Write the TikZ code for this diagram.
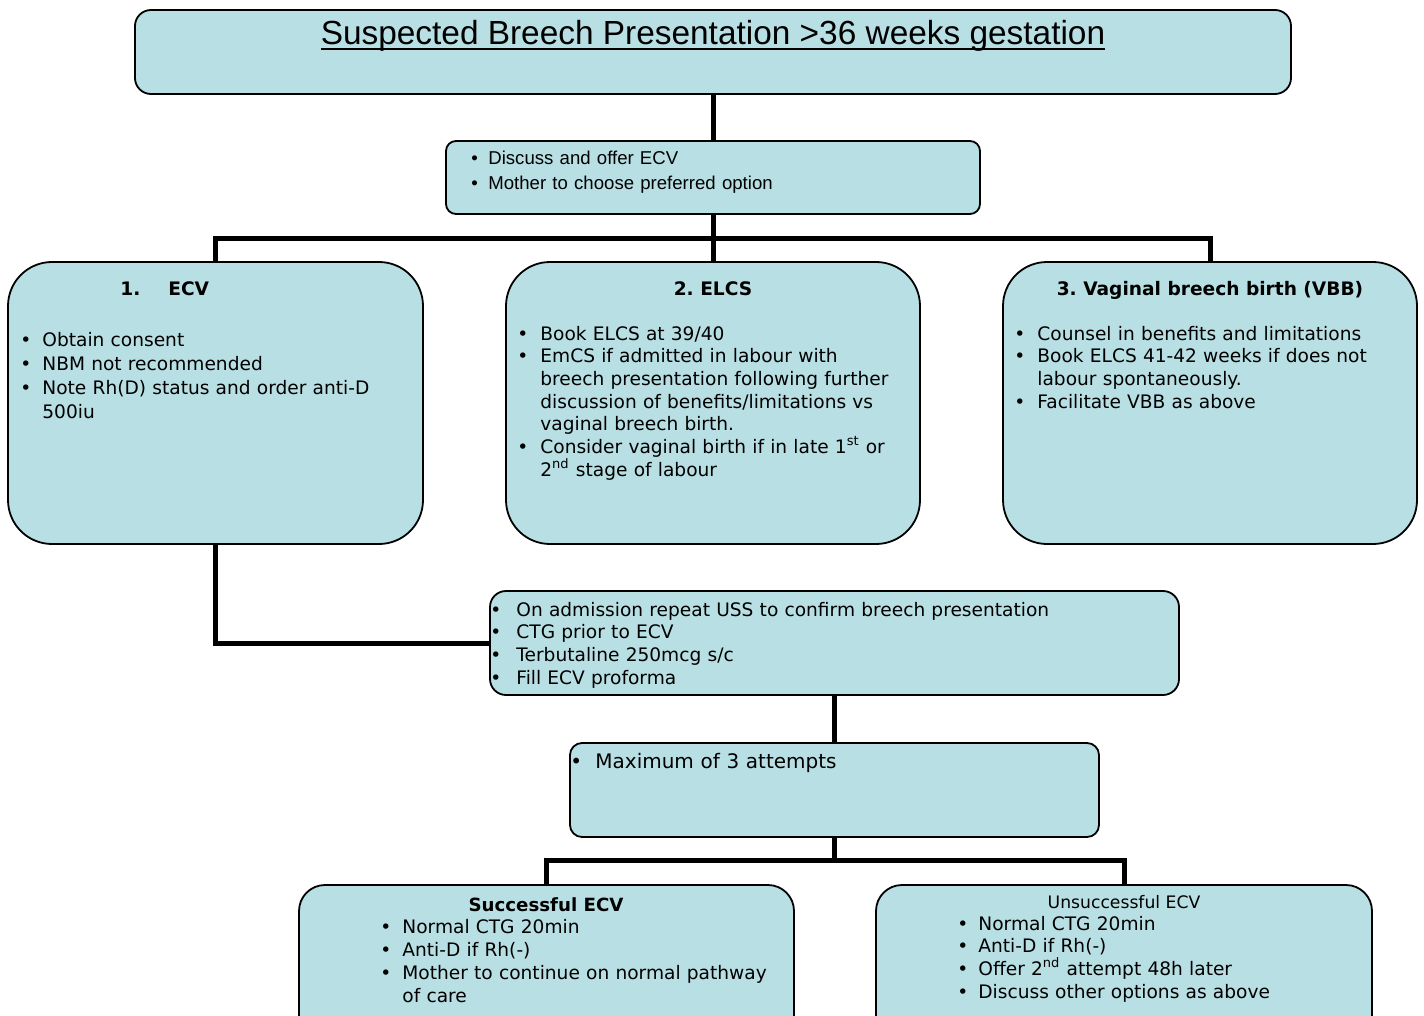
\documentclass[tikz,border=0pt]{standalone}
\usepackage{fontspec}
\setmainfont{DejaVu Sans}
\newfontfamily\arialfont{Liberation Sans}
\usetikzlibrary{fit}

\definecolor{boxfill}{RGB}{184,223,227}

% one bullet line, hanging indent \bulind
\newlength\bulind
\setlength\bulind{10pt}
\newcommand{\bl}[1]{\noindent\hangindent=\bulind\hangafter=1\makebox[\bulind][l]{\textbullet}#1\par}
\newcommand{\bodyfont}{\fontsize{9.3}{11.35}\selectfont}
% heavier underline for the title
\newcommand{\titleul}[1]{{\setbox0\hbox{#1}\rlap{\rule[-2.6pt]{\wd0}{1pt}}\box0}}

\tikzset{
  box/.style={draw, line width=0.9pt, fill=boxfill, rounded corners=#1, inner sep=0pt},
  box/.default=7pt,
  link/.style={line width=2.5pt},
  head/.style={anchor=base, inner sep=0pt, font=\bodyfont\bfseries},
  items/.style={anchor=base west, inner sep=0pt, text width=#1, align=left, font=\bodyfont},
  items/.default=200pt,
}

\begin{document}
\begin{tikzpicture}[x=0.5pt, y=-0.5pt]
  \useasboundingbox (0,0) rectangle (1424,1016);
  \clip (0,0) rectangle (1424,1016);

  % the boxes
  \node (top) [box=8pt, fit={(135,10) (1291,94)}] {};
  \node (discuss) [box=5pt, fit={(446,141) (980,214)}] {};
  \node (ecv) [box=22pt, fit={(8,262) (423,544)}] {};
  \node (elcs) [box=22pt, fit={(506,262) (920,544)}] {};
  \node (vbb) [box=22pt, fit={(1003,262) (1417,544)}] {};
  \node (adm) [box=8pt, fit={(490,591) (1179,695)}] {};
  \node (max) [box=6pt, fit={(570,743) (1099,837)}] {};
  \node (succ) [box=13pt, fit={(299,885) (794,1045)}] {};
  \node (unsucc) [box=13pt, fit={(876,885) (1372,1045)}] {};

  % connectors
  \draw[link] (top.south) -- (discuss.north);
  \draw[link] (discuss.south) -- ++(0,24) coordinate (split);
  \draw[link] (ecv.north) |- (split) -| (vbb.north);
  \draw[link] (split) -- (elcs.north);
  \draw[link] (ecv.south) |- (adm.west);
  \draw[link] (adm.south) -- (max.north);
  \draw[link] (max.south) -- ++(0,23) coordinate (split2);
  \draw[link] (succ.north) |- (split2) -| (unsucc.north);

  % texts
  \node (ttl) [anchor=base, inner sep=0pt, font=\arialfont\fontsize{16.7}{20}\selectfont]
    at (713,45) {\titleul{Suspected Breech Presentation >36 weeks gestation}};
  \node (discusstxt) [items=240pt, font=\arialfont\fontsize{9.3}{12.5}\selectfont] at (471,165)
    {\setlength\bulind{8.5pt}\bl{Discuss and offer ECV}\bl{Mother to choose preferred option}};

  \node (ecvhead) [head, anchor=base west] at (120,296) {\makebox[24pt][l]{1.}ECV};
  \node (ecvtxt) [items, font=\fontsize{9.3}{12.15}\selectfont] at (20,346)
    {\setlength\bulind{11pt}\bl{Obtain consent}\bl{NBM not recommended}
     \bl{Note Rh(D) status and order anti-D\newline 500iu}};

  \node (elcshead) [head] at (713,296) {2.\ ELCS};
  \node (elcstxt) [items] at (517,340)
    {\setlength\bulind{11.5pt}\bl{Book ELCS at 39/40}
     \bl{EmCS if admitted in labour with\newline breech presentation following further\newline
       discussion of benefits/limitations vs\newline vaginal breech birth.}
     \bl{Consider vaginal birth if in late 1\textsuperscript{st} or\newline
       2\textsuperscript{nd} stage of labour}};

  \node (vbbhead) [head] at (1210,296) {3.\ Vaginal breech birth (VBB)};
  \node (vbbtxt) [items] at (1014,340)
    {\setlength\bulind{11.5pt}\bl{Counsel in benefits and limitations}
     \bl{Book ELCS 41-42 weeks if does not\newline labour spontaneously.}
     \bl{Facilitate VBB as above}};

  \node (admtxt) [items=330pt] at (490,616)
    {\setlength\bulind{13pt}\bl{On admission repeat USS to confirm breech presentation}
     \bl{CTG prior to ECV}\bl{Terbutaline 250mcg s/c}\bl{Fill ECV proforma}};

  \node (maxtxt) [items=250pt, font=\fontsize{10}{12}\selectfont] at (570,768)
    {\setlength\bulind{12.5pt}\bl{Maximum of 3 attempts}};

  \node (succhead) [head, font=\fontsize{9.1}{11}\selectfont\bfseries] at (546,911) {Successful ECV};
  \node (succtxt) [items, font=\fontsize{9.3}{11.5}\selectfont] at (380,933)
    {\setlength\bulind{11pt}\bl{Normal CTG 20min}\bl{Anti-D if Rh(-)}
     \bl{Mother to continue on normal pathway\newline of care}};

  \node (unsucchead) [head, font=\fontsize{8.6}{10}\selectfont\mdseries] at (1124,908) {Unsuccessful ECV};
  \node (unsucctxt) [items] at (957,930)
    {\setlength\bulind{10.5pt}\bl{Normal CTG 20min}\bl{Anti-D if Rh(-)}
     \bl{Offer 2\textsuperscript{nd} attempt 48h later}\bl{Discuss other options as above}};
\end{tikzpicture}
\end{document}
